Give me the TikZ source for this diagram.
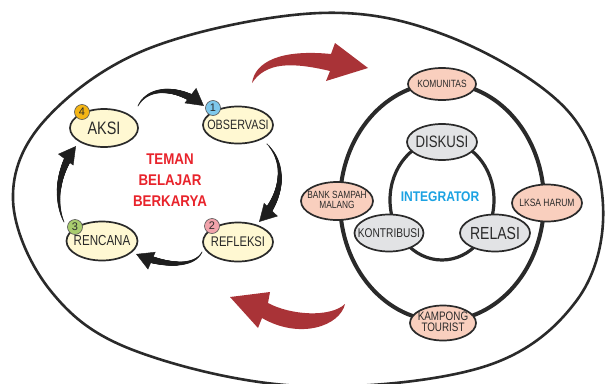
\documentclass[tikz,border=0pt]{standalone}
\usepackage{fontspec}
\setmainfont{Liberation Sans}
\newfontfamily\cond[FakeStretch=0.8]{Liberation Sans}
\newfontfamily\condb[FakeStretch=0.86]{Liberation Sans}
\usetikzlibrary{shapes.geometric,arrows.meta,decorations.markings}
\definecolor{cream}{HTML}{FFF8D2}
\definecolor{peach}{HTML}{F9CFBE}
\definecolor{lgray}{HTML}{E2E3E5}
\definecolor{linec}{HTML}{2A2A2A}
\definecolor{darkred}{HTML}{A93337}
\definecolor{titlered}{HTML}{E8232B}
\definecolor{intblue}{HTML}{1CA2E2}
\definecolor{swc}{HTML}{1E1E1E}
\definecolor{cblue}{HTML}{7EC8EC}
\definecolor{cpink}{HTML}{F1A3AB}
\definecolor{cgreen}{HTML}{A9CC6E}
\definecolor{corange}{HTML}{F4B515}
\newcommand\zb[1]{\makebox[0pt]{#1}}
\newcommand\zt[1]{\makebox[0pt]{\def\arraystretch{0.74}\begin{tabular}{@{}c@{}}#1\end{tabular}}}
\begin{document}
\begin{tikzpicture}[x=1pt,y=-1pt,
  cyc/.style={ellipse, draw=linec, line width=1.7pt, fill=cream, inner sep=0pt, text=linec},
  pnk/.style={ellipse, draw=linec, line width=1.7pt, fill=peach, inner sep=0pt, text=linec},
  gry/.style={ellipse, draw=linec, line width=1.7pt, fill=lgray, inner sep=0pt, text=linec},
  num/.style={circle, draw=linec!80, line width=0.6pt, minimum size=15pt, inner sep=0pt, text=linec, font=\fontsize{11}{11}\selectfont},
  swoosh/.style={decoration={markings,
    mark=between positions 0 and -10pt step 0.4pt with {\pgfmathsetmacro\rr{0.4+#1*(\pgfkeysvalueof{/pgf/decoration/mark info/distance from start})/(\pgfdecoratedpathlength)}\fill[swc] (0,0) circle[radius=\rr pt];},
    mark=at position 0.999 with {\arrow[swc]{Triangle[width=19pt,length=17pt]}}}, decorate},
  bigarrow/.style={fill=darkred, draw=none}
]
\useasboundingbox (0,0) rectangle (605,383);

% outer boundary
\draw[linec, line width=2.6pt] plot[smooth cycle, tension=0.6] coordinates {
  (320,13) (150,48) (45,120) (13,200) (50,290) (133,350) (300,386)
  (483,367) (577,300) (603,205) (567,110) (450,37)};

% red arrows
\fill[bigarrow] (252,83) .. controls (255,62) and (280,49) .. (331,54) -- (335,43) -- (368,68) -- (326,81) -- (330,71) .. controls (292,62) and (266,62) .. (252,83) -- cycle;
\fill[bigarrow] (230,297) -- (270,292) -- (268,303) .. controls (290,315) and (330,318) .. (345,304) .. controls (340,326) and (300,340) .. (262,318) -- (258,328) -- cycle;

% rings
\draw[linec, line width=4pt] (442,202) ellipse [x radius=102, y radius=119];
\draw[linec, line width=3.2pt] (442,200) ellipse [x radius=52, y radius=60];

% cycle nodes
\node[cyc, minimum width=68pt, minimum height=38pt] (aksi) at (104,128) {\zb{\cond\fontsize{18}{18}\selectfont AKSI}};
\node[cyc, minimum width=70pt, minimum height=37pt] (obs) at (238,125) {\zb{\cond\fontsize{13.5}{13.5}\selectfont OBSERVASI}};
\node[cyc, minimum width=70pt, minimum height=39pt] (ref) at (238,242) {\zb{\cond\fontsize{14}{14}\selectfont REFLEKSI}};
\node[cyc, minimum width=71pt, minimum height=39pt] (ren) at (102,241) {\zb{\cond\fontsize{14.5}{14.5}\selectfont RENCANA}};

\node[num, fill=corange] (n4) at (82,112) {4};
\node[num, fill=cblue] (n1) at (213,108) {1};
\node[num, fill=cpink] (n2) at (212,226) {2};
\node[num, fill=cgreen] (n3) at (75,227) {3};

% swoosh arrows
\coordinate (s1a) at (138,106); \coordinate (s1b) at (204,106);
\coordinate (s2a) at (267,144); \coordinate (s2b) at (259,222);
\coordinate (s3a) at (202,252); \coordinate (s3b) at (136,254);
\coordinate (s4a) at (64,222);  \coordinate (s4b) at (76,146);
\path[swoosh=4] (s1a) .. controls (148,86) and (178,86) .. (s1b);
\path[swoosh=4] (s2a) .. controls (286,163) and (284,196) .. (s2b);
\path[swoosh=4] (s3a) .. controls (194,268) and (164,266) .. (s3b);
\path[swoosh=4] (s4a) .. controls (54,200) and (58,170) .. (s4b);

% title
\node[text=titlered, align=center, font=\condb\bfseries\fontsize{15.5}{21}\selectfont] (title) at (170,180) {TEMAN\\BELAJAR\\BERKARYA};

% ring nodes
\node[pnk, minimum width=68pt, minimum height=32pt] (kom) at (442,84) {\zb{\cond\fontsize{10.5}{10.5}\selectfont KOMUNITAS}};
\node[pnk, minimum width=72pt, minimum height=38pt] (bank) at (337,201) {\zt{\cond\fontsize{10.4}{10.4}\selectfont BANK SAMPAH\\\cond\fontsize{10.4}{10.4}\selectfont MALANG}};
\node[pnk, minimum width=70pt, minimum height=37pt] (lksa) at (547,203) {\zb{\cond\fontsize{10.6}{10.6}\selectfont LKSA HARUM}};
\node[pnk, minimum width=66pt, minimum height=35pt] (kamp) at (443,323) {\zt{\cond\fontsize{12.3}{12.3}\selectfont KAMPONG\\\cond\fontsize{12.3}{12.3}\selectfont TOURIST}};

\node[gry, minimum width=70pt, minimum height=36pt] (disk) at (442,142) {\zb{\cond\fontsize{16.5}{16.5}\selectfont DISKUSI}};
\node[gry, minimum width=69pt, minimum height=37pt] (kont) at (389,233) {\zb{\cond\fontsize{12.7}{12.7}\selectfont KONTRIBUSI}};
\node[gry, minimum width=70pt, minimum height=37pt] (rel) at (495,233) {\zb{\cond\fontsize{17.5}{17.5}\selectfont RELASI}};

\node[text=intblue, font=\condb\bfseries\fontsize{14}{14}\selectfont] (integ) at (440,197) {INTEGRATOR};
\end{tikzpicture}
\end{document}
